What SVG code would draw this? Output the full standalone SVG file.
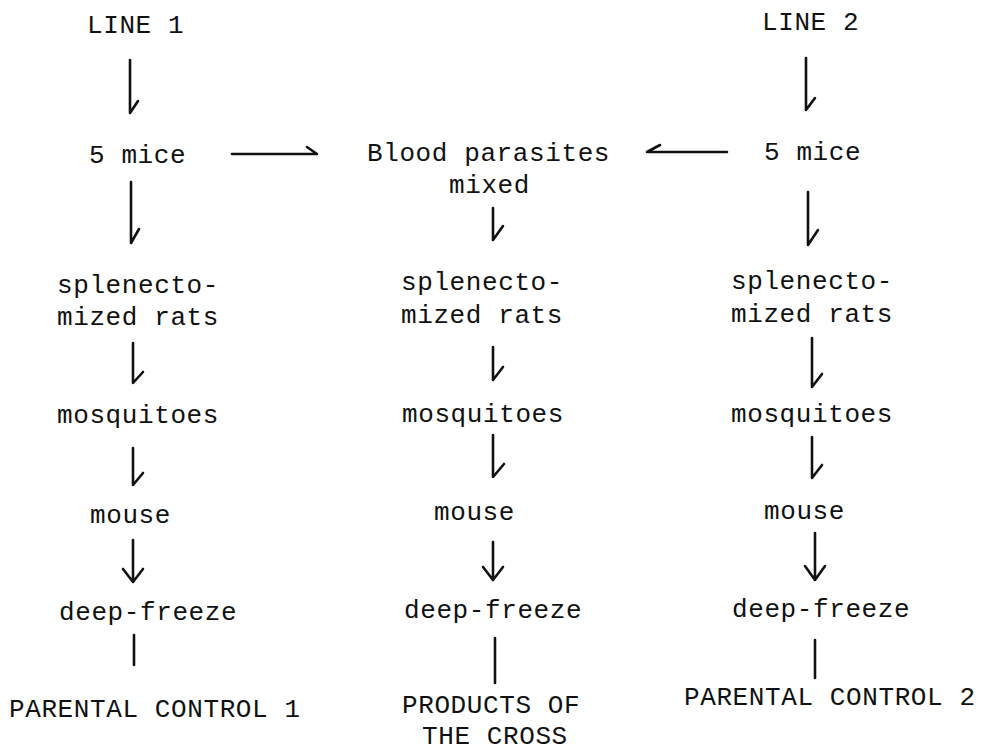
<svg xmlns="http://www.w3.org/2000/svg" width="988" height="753" viewBox="0 0 988 753">
<style>
text{font-family:"Liberation Mono","DejaVu Sans Mono",monospace;font-size:26px;letter-spacing:0.6px;fill:#111}
.c{fill:none;stroke:#111;stroke-width:2.6;stroke-linecap:round;stroke-linejoin:round}
</style>
<rect width="988" height="753" fill="#fff"/>
<g id="line1"><text x="87" y="33">LINE 1</text></g>
<g id="mice1"><text x="89" y="163">5 mice</text></g>
<g id="rats1"><text x="57" y="293">splenecto-</text><text x="57" y="325">mized rats</text></g>
<g id="mosq1"><text x="57" y="423">mosquitoes</text></g>
<g id="mouse1"><text x="90" y="523">mouse</text></g>
<g id="freeze1"><text x="59" y="620">deep-freeze</text></g>
<g id="pc1"><text x="9" y="717">PARENTAL CONTROL 1</text></g>

<g id="blood"><text x="367" y="161">Blood parasites</text><text x="449" y="193">mixed</text></g>
<g id="rats2"><text x="401" y="290">splenecto-</text><text x="401" y="323">mized rats</text></g>
<g id="mosq2"><text x="402" y="422">mosquitoes</text></g>
<g id="mouse2"><text x="434" y="520">mouse</text></g>
<g id="freeze2"><text x="404" y="618">deep-freeze</text></g>
<g id="products"><text x="402" y="713">PRODUCTS OF</text><text x="422" y="744">THE CROSS</text></g>

<g id="line2"><text x="762" y="30">LINE 2</text></g>
<g id="mice2"><text x="764" y="160">5 mice</text></g>
<g id="rats3"><text x="731" y="289">splenecto-</text><text x="731" y="322">mized rats</text></g>
<g id="mosq3"><text x="731" y="422">mosquitoes</text></g>
<g id="mouse3"><text x="764" y="519">mouse</text></g>
<g id="freeze3"><text x="732" y="617">deep-freeze</text></g>
<g id="pc2"><text x="684" y="705">PARENTAL CONTROL 2</text></g>

<g id="connectors" class="c">
<path class="c" d="M130,60 V113 L138,101"/>
<path class="c" d="M131,182 V243 L139,229"/>
<path class="c" d="M133,343 V383 L143,372"/>
<path class="c" d="M133,448 V485 L143,473"/>
<path class="c" d="M133,540 V582 M123,569 L133,582 L143,569"/>
<path class="c" d="M134,635 V665"/>
<path class="c" d="M232,154 H317 L307,147"/>

<path class="c" d="M493,208 V240 L503,226"/>
<path class="c" d="M493,347 V380 L503,367"/>
<path class="c" d="M493,435 V477 L504,464"/>
<path class="c" d="M493,542 V580 M483,567 L493,580 L503,567"/>
<path class="c" d="M495,638 V683"/>

<path class="c" d="M727,152 H647 L660,145"/>
<path class="c" d="M806,58 V110 L815,98"/>
<path class="c" d="M808,192 V245 L818,230"/>
<path class="c" d="M812,338 V387 L822,374"/>
<path class="c" d="M812,437 V478 L822,465"/>
<path class="c" d="M815,533 V580 M805,566 L815,580 L825,566"/>
<path class="c" d="M815,640 V678"/>
</g>
</svg>
